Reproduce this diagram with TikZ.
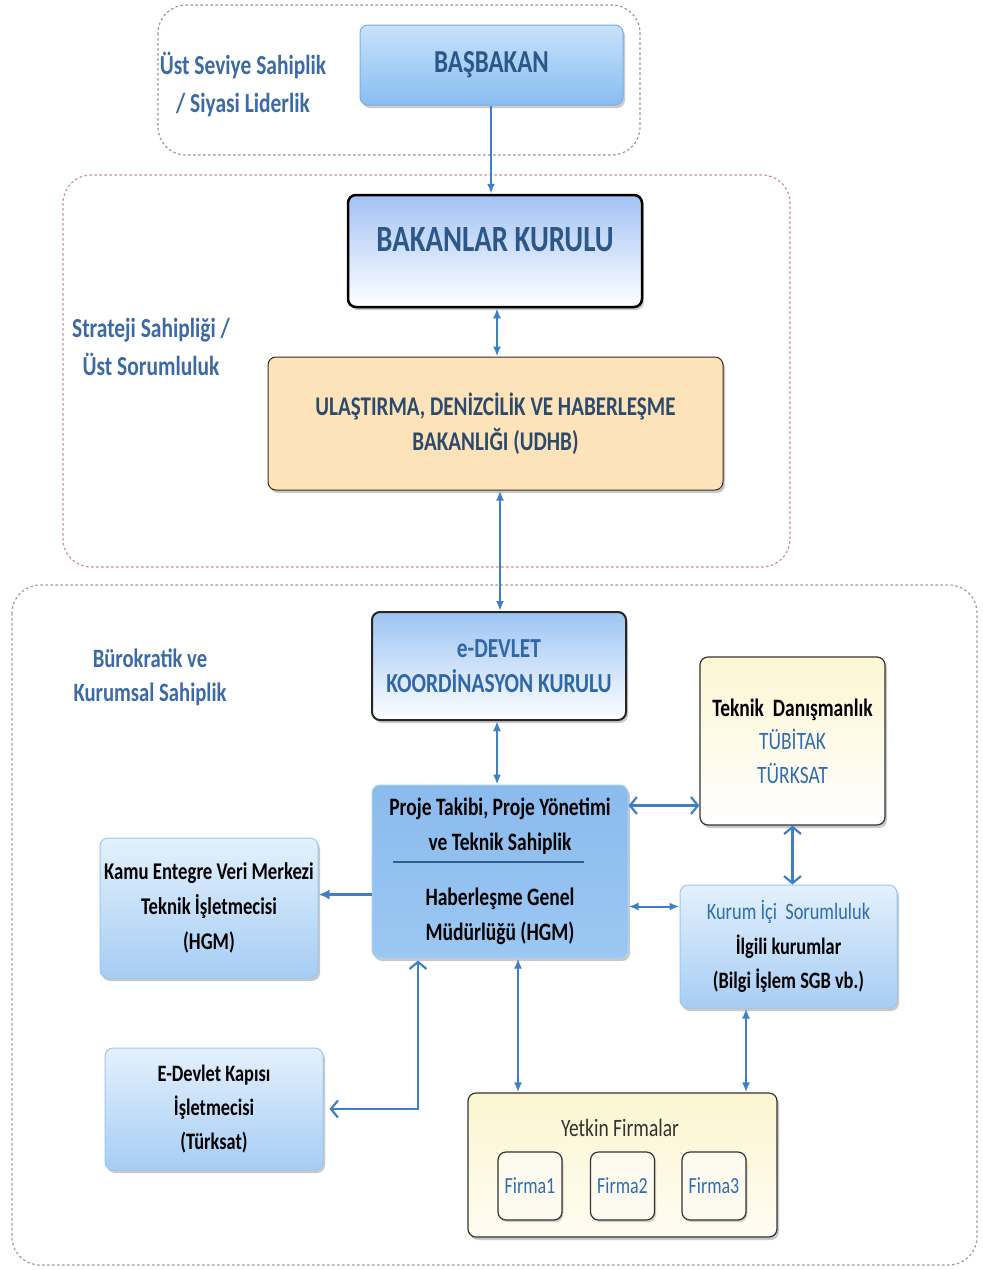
\documentclass[tikz,border=0pt]{standalone}
\usepackage{fontspec}
\setmainfont{Carlito}[FakeStretch=0.78]
\usetikzlibrary{arrows.meta,shadows,calc}
\definecolor{tblue}{HTML}{2B5789}
\definecolor{lblue}{HTML}{3B6AA5}
\definecolor{mblue}{HTML}{2F6DB0}
\definecolor{arrowc}{HTML}{3F7FC6}
\definecolor{g1c}{HTML}{8A9AB0}
\definecolor{g2c}{HTML}{D08A9A}
\definecolor{g3c}{HTML}{9AA090}
\definecolor{basdraw}{HTML}{7AAEE6}
\definecolor{bastop}{HTML}{C8E2FC}
\definecolor{basbot}{HTML}{88BDF0}
\definecolor{bktop}{HTML}{A3C3F5}
\definecolor{udfill}{HTML}{FDE3B9}
\definecolor{uddraw}{HTML}{3B2B1B}
\definecolor{udtxt}{HTML}{2C4A6E}
\definecolor{edtop}{HTML}{9CC4F3}
\definecolor{edtxt}{HTML}{2F67A8}
\definecolor{hgmtop}{HTML}{8BBBED}
\definecolor{hgmbot}{HTML}{9BC7F2}
\definecolor{hgmdraw}{HTML}{A8D0F5}
\definecolor{tektop}{HTML}{FCF6D2}
\definecolor{lbtop}{HTML}{E4F1FD}
\definecolor{lbbot}{HTML}{A6CDF4}
\definecolor{lbdraw}{HTML}{9CC8F0}
\definecolor{yettop}{HTML}{FBF5D0}
\definecolor{yetbot}{HTML}{FFFDF2}
\definecolor{firfill}{HTML}{FDFBF0}
\definecolor{sepc}{HTML}{2F5F93}
\begin{document}
\begin{tikzpicture}[x=1pt,y=-1pt,
  box/.style={rectangle, rounded corners=8pt, inner sep=0pt, align=center,
    drop shadow={shadow xshift=2pt, shadow yshift=-3pt, opacity=0.35, fill=black!60}},
  grp/.style={draw=#1, dash pattern=on 2.5pt off 2.5pt, line width=1.2pt, rounded corners=28pt},
  glabel/.style={align=center, text=lblue, font=\fontsize{27.5}{38}\selectfont\bfseries},
  arr/.style={draw=arrowc, line width=2pt, -{Latex[length=10pt,width=8pt]}},
  darr/.style={draw=arrowc, line width=2pt, {Latex[length=10pt,width=8pt]}-{Latex[length=10pt,width=8pt]}},
  oarr/.style={draw=arrowc, line width=2.2pt, {Straight Barb[length=7pt,width=17pt]}-{Straight Barb[length=7pt,width=17pt]}},
  btxt/.style={font=\fontsize{25}{35}\selectfont\bfseries, text=black},
  lbbox/.style={box, draw=lbdraw, line width=1pt, top color=lbtop, bottom color=lbbot}
]
\useasboundingbox (0,0) rectangle (983,1270);
\fill[white] (0,0) rectangle (983,1270);

% groups
\draw[grp=g1c] (158,5) rectangle (640,155);
\draw[grp=g2c] (63,175) rectangle (790,567);
\draw[grp=g3c] (12,585) rectangle (977,1265);

\node[glabel] (l1) at (243,84) {Üst Seviye Sahiplik\\/ Siyasi Liderlik};
\node[glabel] (l2) at (151,347) {Strateji Sahipliği /\\Üst Sorumluluk};
\node[glabel, font=\fontsize{26.5}{34}\selectfont\bfseries] (l3) at (150,677) {Bürokratik ve\\Kurumsal Sahiplik};

% boxes
\node[box, draw=basdraw, line width=1pt, top color=bastop, bottom color=basbot,
  minimum width=263, minimum height=80, text=tblue, font=\fontsize{32}{40}\selectfont\bfseries]
  (bas) at (491.5,65) {BAŞBAKAN};

\node[box, draw=black, line width=2.5pt, top color=bktop, bottom color=white,
  minimum width=294, minimum height=112] (bk) at (495,251) {};
\node[text=tblue, font=\fontsize{37}{44}\selectfont\bfseries] (bkt) at (495,240) {BAKANLAR KURULU};

\node[box, draw=uddraw, line width=1pt, fill=udfill, minimum width=455, minimum height=133,
  text=udtxt, font=\fontsize{27}{35}\selectfont\bfseries]
  (udhb) at (495.5,423.5) {ULAŞTIRMA, DENİZCİLİK VE HABERLEŞME\\BAKANLIĞI (UDHB)};

\node[box, draw=black!85, line width=2pt, top color=edtop, bottom color=white,
  minimum width=254, minimum height=108, text=edtxt, font=\fontsize{27.5}{35}\selectfont\bfseries]
  (edev) at (499,666) {e-DEVLET\\KOORDİNASYON KURULU};

\node[box, draw=hgmdraw, line width=1pt, top color=hgmtop, bottom color=hgmbot,
  minimum width=256, minimum height=173, btxt]
  (hgm) at (500,871.5) {Proje Takibi, Proje Yönetimi\\ve Teknik Sahiplik\\[20pt]Haberleşme Genel\\Müdürlüğü (HGM)};
\draw[sepc, line width=1.8pt] ([xshift=-107pt,yshift=9.5pt]hgm.center) -- ([xshift=84pt,yshift=9.5pt]hgm.center);

\node[box, draw=black!80, line width=1.2pt, top color=tektop, bottom color=white,
  minimum width=185, minimum height=168, btxt, font=\fontsize{25}{33.5}\selectfont\bfseries]
  (tek) at (792.5,741) {Teknik\ \ Danışmanlık\\\mdseries\color{mblue}TÜBİTAK\\\mdseries\color{mblue}TÜRKSAT};

\node[lbbox, minimum width=217, minimum height=123, btxt, font=\fontsize{23.5}{34.5}\selectfont\bfseries]
  (kurum) at (788.5,946.5) {{\mdseries\color{mblue}Kurum İçi\ \ Sorumluluk}\\İlgili kurumlar\\(Bilgi İşlem SGB vb.)};

\node[lbbox, minimum width=218, minimum height=140, btxt, font=\fontsize{24}{35}\selectfont\bfseries]
  (kamu) at (209,908) {Kamu Entegre Veri Merkezi\\Teknik İşletmecisi\\(HGM)};

\node[lbbox, minimum width=218, minimum height=122, btxt, font=\fontsize{23.5}{34}\selectfont\bfseries]
  (ekap) at (214,1109) {E-Devlet Kapısı\\İşletmecisi\\(Türksat)};

\node[box, draw=black!80, line width=1.2pt, top color=yettop, bottom color=yetbot,
  minimum width=309, minimum height=144] (yet) at (622.5,1165) {};
\node[font=\fontsize{25}{28}\selectfont, text=black!80] (yett) at (620,1128) {Yetkin Firmalar};
\tikzset{firma/.style={rectangle, rounded corners=8pt, draw=black!80, line width=1.2pt, fill=firfill,
  minimum width=64, minimum height=68, inner sep=0pt, text=mblue, font=\fontsize{23}{26}\selectfont,
  drop shadow={shadow xshift=1.5pt, shadow yshift=-2pt, opacity=0.3, fill=black!60}}}
\node[firma] (f1) at (530,1186) {Firma1};
\node[firma] (f2) at (622.5,1186) {Firma2};
\node[firma] (f3) at (714,1186) {Firma3};

% connectors
\draw[arr] ([xshift=-0.5pt]bas.south) -- ([xshift=-0.5pt]bas.south |- bk.north);
\draw[darr] ([xshift=2pt]bk.south) -- ([xshift=2pt]bk.south |- udhb.north);
\draw[darr] ([xshift=1pt]edev.north |- udhb.south) -- ([xshift=1pt]edev.north);
\draw[darr] ([xshift=-2pt]edev.south) -- ([xshift=-2pt]edev.south |- hgm.north);
\draw[oarr] ([yshift=66pt]hgm.east) -- ([yshift=66pt]hgm.east -| tek.west);
\draw[oarr] (tek.south) -- (tek.south |- kurum.north);
\draw[darr] ([yshift=-35pt]hgm.east) -- ([yshift=-35pt]hgm.east -| kurum.west);
\draw[draw=arrowc, line width=3.5pt, -{Latex[length=11pt,width=10pt]}] ([yshift=-23pt]hgm.west) -- ([yshift=-23pt]hgm.west -| kamu.east);
\draw[oarr, shorten <=2pt, shorten >=6pt] ([xshift=-82pt]hgm.south) |- (ekap.east);
\draw[darr] ([xshift=18pt]hgm.south) -- ([xshift=18pt]hgm.south |- yet.north);
\draw[darr] ([xshift=-42.5pt]kurum.south) -- ([xshift=-42.5pt]kurum.south |- yet.north);
\end{tikzpicture}
\end{document}
